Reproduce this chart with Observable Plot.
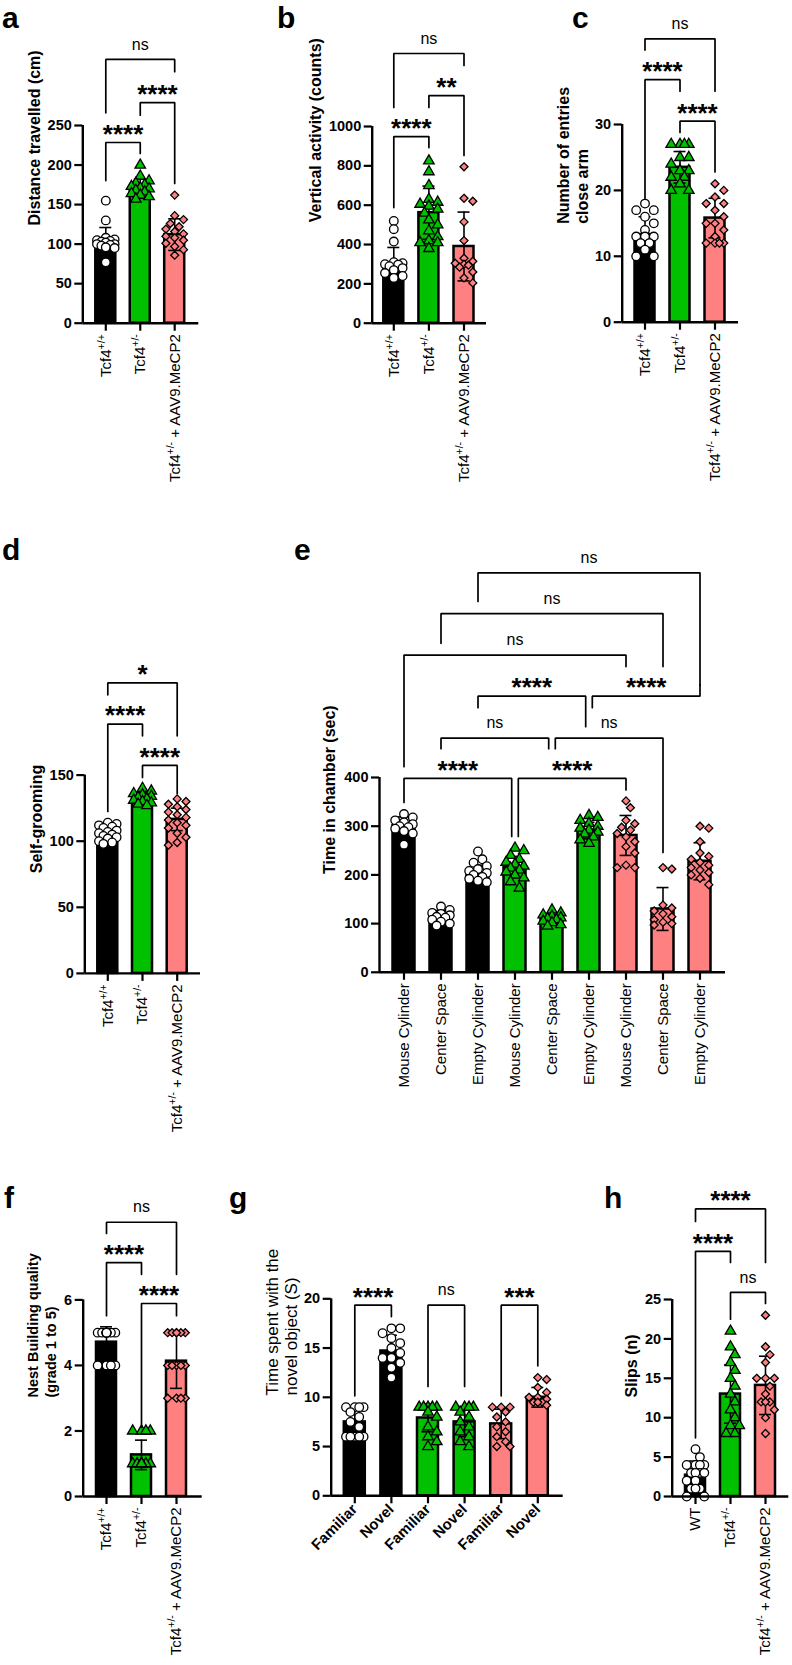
<!DOCTYPE html>
<html><head><meta charset="utf-8">
<script src="https://cdn.jsdelivr.net/npm/d3@7"></script>
<script src="https://cdn.jsdelivr.net/npm/@observablehq/plot@0.6"></script>
<style>
body{margin:0;background:#fff;}
#fig{position:relative;width:792px;height:1665px;background:#fff;overflow:hidden;font-family:"Liberation Sans",Arial,sans-serif;color:#000;}
.letter{position:absolute;font-weight:bold;font-size:30px;line-height:34px;}
.panel{position:absolute;}
.panel svg{overflow:visible;max-width:none;}
</style></head><body><div id="fig"></div>
<script>
// ---------- categories / tick labels ----------
const threeGroups = ["Tcf4^{+/+}", "Tcf4^{+/-}", "Tcf4^{+/-} + AAV9.MeCP2"];
const slipGroups = ["WT", "Tcf4^{+/-}", "Tcf4^{+/-} + AAV9.MeCP2"];
const chamberLabels = ["Mouse Cylinder", "Center Space", "Empty Cylinder", "Mouse Cylinder", "Center Space", "Empty Cylinder", "Mouse Cylinder", "Center Space", "Empty Cylinder"];
const objectLabels = ["Familiar", "Novel", "Familiar", "Novel", "Familiar", "Novel"];
const genoThree = [0, 1, 2];
const genoChamber = [0, 0, 0, 1, 1, 1, 2, 2, 2];
const genoObject = [0, 0, 1, 1, 2, 2];

// ---------- a: distance travelled ----------
const aMeans = [101, 170, 112];
const aSD = [20, 12, 20];
const aWT = [155, 130, 108, 106, 105, 104, 103, 102, 100, 100, 99, 98, 96, 95, 77];
const aHet = [200, 186, 180, 177, 175, 173, 171, 170, 168, 166, 164, 162, 160, 157];
const aAAV = [162, 136, 131, 126, 122, 119, 116, 113, 110, 108, 105, 101, 97, 93, 86];
const aBrackets = [[0, 1, 228.5, 180.4, 214.6, "****"], [1, 2, 279, 263, 176.7, "****"], [0, 2, 333.5, 266, 318, "ns"]];

// ---------- b: vertical activity ----------
const bMeans = [305, 562, 390];
const bSD = [80, 135, 175];
const bWT = [520, 478, 415, 310, 305, 300, 298, 290, 280, 270, 255, 240, 230];
const bHet = [825, 770, 700, 630, 615, 605, 595, 580, 560, 525, 500, 470, 440, 420, 410, 410, 380];
const bAAV = [795, 635, 620, 515, 420, 330, 315, 305, 300, 295, 285, 260, 230, 205];
const bBrackets = [[0, 1, 949, 588, 893, "****"], [1, 2, 1157, 1097, 853, "**"], [0, 2, 1371, 1097, 1310, "ns"]];

// ---------- c: entries close arm ----------
const cMeans = [13.3, 23.5, 15.8];
const cSD = [2.7, 2.4, 3.0];
const cWT = [18, 17, 17, 16, 15, 14, 13, 13, 13, 12, 12, 11, 10, 10];
const cHet = [27, 27, 27, 27, 25, 25, 24, 23, 23, 22, 22, 21, 20, 20];
const cAAV = [21, 20, 19, 18, 18, 17, 16, 15, 15, 14, 13, 12, 12, 12, 12];
const cBrackets = [[0, 1, 36.8, 18.8, 35.05, "****"], [1, 2, 30.5, 28.8, 22.8, "****"], [0, 2, 43.0, 41.3, 35.05, "ns"]];

// ---------- d: self-grooming ----------
const dMeans = [106.5, 132.7, 116.5];
const dSD = [4.5, 4, 8.5];
const dWT = [114, 113, 112, 111, 110, 108, 107, 106, 105, 104, 103, 102, 100, 99, 98];
const dHet = [140, 138, 136, 135, 134, 133, 132, 131, 130, 129, 128, 127];
const dAAV = [132, 130, 128, 126, 124, 122, 120, 118, 116, 114, 112, 110, 106, 103, 99, 97];
const dBrackets = [[0, 1, 188.6, 122.5, 179.7, "****"], [1, 2, 157.3, 148.2, 135.9, "****"], [0, 2, 219.7, 210.7, 179.7, "*"]];

// ---------- e: time in chamber ----------
const eMeans = [301, 115, 200, 216, 108, 291, 281, 130, 228];
const eSD = [18, 12, 20, 22, 9, 17, 41, 44, 38];
const eWTMouse = [325, 318, 312, 308, 304, 300, 298, 295, 290, 285, 262];
const eWTCenter = [135, 128, 122, 120, 117, 114, 112, 108, 104, 100, 96];
const eWTEmpty = [248, 232, 225, 218, 212, 208, 204, 200, 196, 192, 188, 185];
const eHetMouse = [255, 250, 240, 232, 226, 222, 218, 214, 210, 206, 200, 194, 186, 173];
const eHetCenter = [128, 122, 118, 115, 112, 110, 108, 105, 102, 98, 95];
const eHetEmpty = [322, 318, 312, 306, 300, 296, 292, 288, 284, 278, 272, 265];
const eAAVMouse = [352, 338, 312, 305, 298, 292, 285, 278, 268, 258, 245, 220, 215, 215];
const eAAVCenter = [215, 212, 138, 132, 126, 120, 114, 108, 103, 100, 97];
const eAAVEmpty = [300, 296, 268, 245, 238, 232, 226, 220, 215, 210, 205, 200, 193, 180];
const eBrackets = [
  [0, 3, 398, 348.9, 279, "****", 0, -1], [3, 6, 398, 279, 374.4, "****", 1, 0],
  [1, 4, 481, 459, 459, "ns", 0, -1], [4, 7, 481, 459, 246, "ns", 1, 0],
  [2, 5, 567, 543.4, 504.4, "****", 0, -1], [5, 8, 567, 543.4, 589.6, "****", 1, 0],
  [0, 6, 651.3, 422.2, 627.8, "ns"], [1, 7, 736.6, 675.6, 627.8, "ns"], [2, 8, 820.3, 761.5, 589.6, "ns"]];

// ---------- f: nest building ----------
const fMeans = [4.71, 1.27, 4.13];
const fSD = [0.47, 0.45, 0.83];
const fWT = [5, 5, 5, 5, 5, 5, 5, 5, 5, 5, 4, 4, 4, 4];
const fHet = [2, 2, 2, 2, 1, 1, 1, 1, 1, 1, 1, 1, 1, 1, 1];
const fAAV = [5, 5, 5, 5, 5, 5, 4, 4, 4, 4, 4, 3, 3, 3, 3];
const fBrackets = [[0, 1, 7.14, 5.52, 6.78, "****"], [1, 2, 5.89, 2.11, 5.52, "****"], [0, 2, 8.37, 8.03, 6.78, "ns"]];

// ---------- g: novel object ----------
const gMeans = [7.5, 14.7, 7.9, 7.5, 7.3, 10.0];
const gSD = [1.3, 1.6, 1.4, 1.5, 1.5, 1.0];
const gWTFam = [9, 9, 9, 9, 8.5, 8, 7.5, 7, 6, 6, 6, 6, 6];
const gWTNov = [17, 17, 16.5, 16, 15.5, 15, 14.5, 14, 14, 13.5, 13, 12];
const gHetFam = [9, 9, 9, 9, 9, 8.5, 8, 7, 6.5, 6, 5.5, 5];
const gHetNov = [9, 9, 9, 9, 8.5, 8, 7.5, 7, 6.5, 6, 5.5, 5];
const gAAVFam = [9, 9, 9, 8.5, 8, 7.5, 7, 6.5, 6, 5.5, 5, 5];
const gAAVNov = [12, 11.8, 11, 10.5, 10, 10, 9.8, 9.5, 9.5, 9.5, 9.2];
const gBrackets = [[0, 1, 19.35, 10.15, 18.2, "****"], [2, 3, 19.35, 11.1, 11.1, "ns"], [4, 5, 19.35, 10.15, 13.2, "***"]];

// ---------- h: slips ----------
const hMeans = [2.7, 13.0, 14.1];
const hSD = [1.8, 3.7, 3.7];
const hWT = [6, 5, 4, 4, 4, 4, 3, 3, 3, 3, 2, 2, 1, 1, 1, 0, 0];
const hHet = [21, 19, 18, 17, 16, 15, 14, 13, 12, 11, 10, 9, 9, 8, 8];
const hAAV = [23, 19, 18, 17, 15, 15, 15, 14, 13, 12, 12, 12, 11, 10, 8];
const hBrackets = [[0, 1, 31.1, 7.44, 29.7, "****"], [1, 2, 25.9, 22.5, 24.5, "ns"], [0, 2, 36.5, 34.9, 29.7, "****"]];

// ---------- styles ----------
const BAR_FILL = ["#000000", "#00c000", "#ff8080"];
const PT_FILL = ["#ffffff", "#00c000", "#ff8080"];
const SYM = ["circle", "triangle", "diamond2"];
const SYM_R = [4.3, 3.9, 3.6];

// ---------- layout (pixel placement of each panel) ----------
const layout = {
  a: {left: 0, top: 0, W: 230, H: 500, axisX: 82.3, xEnd: 198.3, firstC: 105.3, step: 34.45, base: 322.7, topPx: 125, barHalf: 10, labelX: 33.3, labelY: 225, letter: [2, 1.2]},
  b: {left: 250, top: 0, W: 250, H: 500, axisX: 371.7, xEnd: 486, firstC: 393.3, step: 35.1, base: 322.7, topPx: 126, barHalf: 10, labelX: 314, labelY: 221.7, letter: [277, 1.2]},
  c: {left: 520, top: 0, W: 260, H: 500, axisX: 621.7, xEnd: 738, firstC: 644.5, step: 35, base: 321.7, topPx: 124, barHalf: 10, labelX: 571.7, labelY: 223.3, letter: [572, 1.2]},
  d: {left: 0, top: 520, W: 230, H: 620, axisX: 84.3, xEnd: 200, firstC: 107.3, step: 34.7, base: 972.9, topPx: 774.6, barHalf: 10, labelX: 35, labelY: 872.7, letter: [2, 533]},
  e: {left: 290, top: 520, W: 460, H: 600, axisX: 379, xEnd: 725, firstC: 403.5, step: 37.0, base: 971.8, topPx: 777, barHalf: 11, labelX: 328.3, labelY: 873.5, letter: [294, 533]},
  f: {left: 0, top: 1150, W: 230, H: 515, axisX: 82.7, xEnd: 201.7, firstC: 106, step: 35, base: 1496, topPx: 1299.4, barHalf: 10, labelX: 40.8, labelY: 1397, letter: [4, 1181]},
  g: {left: 220, top: 1150, W: 360, H: 515, axisX: 330.7, xEnd: 562.7, firstC: 354.3, step: 36.6, base: 1495.3, topPx: 1298.3, barHalf: 10.5, labelX: 281.2, labelY: 1395, letter: [229, 1181]},
  h: {left: 590, top: 1150, W: 202, H: 515, axisX: 671.7, xEnd: 788.3, firstC: 695, step: 35, base: 1496, topPx: 1299, barHalf: 10, labelX: 630, labelY: 1397, letter: [604, 1181]}
};

const panels = {
  a: {labels: threeGroups, geno: genoThree, means: aMeans, sds: aSD, groups: [aWT, aHet, aAAV], brackets: aBrackets, ymax: 250, yticks: [0, 50, 100, 150, 200, 250], ylabel: "Distance travelled (cm)", rotate: -90},
  b: {labels: threeGroups, geno: genoThree, means: bMeans, sds: bSD, groups: [bWT, bHet, bAAV], brackets: bBrackets, ymax: 1000, yticks: [0, 200, 400, 600, 800, 1000], ylabel: "Vertical activity (counts)", rotate: -90},
  c: {labels: threeGroups, geno: genoThree, means: cMeans, sds: cSD, groups: [cWT, cHet, cAAV], brackets: cBrackets, ymax: 30, yticks: [0, 10, 20, 30], ylabel: "Number of entries\nclose arm", rotate: -90},
  d: {labels: threeGroups, geno: genoThree, means: dMeans, sds: dSD, groups: [dWT, dHet, dAAV], brackets: dBrackets, ymax: 150, yticks: [0, 50, 100, 150], ylabel: "Self-grooming", rotate: -90},
  e: {labels: chamberLabels, geno: genoChamber, means: eMeans, sds: eSD, groups: [eWTMouse, eWTCenter, eWTEmpty, eHetMouse, eHetCenter, eHetEmpty, eAAVMouse, eAAVCenter, eAAVEmpty], brackets: eBrackets, ymax: 400, yticks: [0, 100, 200, 300, 400], ylabel: "Time in chamber (sec)", rotate: -90},
  f: {labels: threeGroups, geno: genoThree, means: fMeans, sds: fSD, groups: [fWT, fHet, fAAV], brackets: fBrackets, ymax: 6, yticks: [0, 2, 4, 6], ylabel: "Nest Building quality\n(grade 1 to 5)", rotate: -90, ylabelSize: 14.5, ylabelLH: 1.25},
  g: {labels: objectLabels, geno: genoObject, means: gMeans, sds: gSD, groups: [gWTFam, gWTNov, gHetFam, gHetNov, gAAVFam, gAAVNov], brackets: gBrackets, ymax: 20, yticks: [0, 5, 10, 15, 20], ylabel: "Time spent with the\nnovel object (S)", rotate: -45, boldX: true, ylabelNormal: true, ylabelSize: 17, ylabelLH: 1.13},
  h: {labels: slipGroups, geno: genoThree, means: hMeans, sds: hSD, groups: [hWT, hHet, hAAV], brackets: hBrackets, ymax: 25, yticks: [0, 5, 10, 15, 20, 25], ylabel: "Slips (n)", rotate: -90}
};

// deterministic scatter spreading (pixel space), returns x offsets in data units
function swarm(vals, ky, kx, r, maxOff) {
  const order = d3.range(vals.length).sort((i, j) => d3.descending(vals[i], vals[j]));
  const cands = [0];
  for (let s = r; s <= maxOff + 0.01; s += r) cands.push(s, -s);
  const placed = [];
  const off = new Array(vals.length).fill(0);
  for (const i of order) {
    const y = vals[i] * ky;
    let best = 0, bestScore = -Infinity;
    for (const c of cands) {
      let minD = Infinity;
      for (const p of placed) minD = Math.min(minD, Math.hypot(p.x - c, p.y - y));
      if (minD >= 2 * r * 0.92) { best = c; break; }
      if (minD > bestScore) { bestScore = minD; best = c; }
    }
    placed.push({x: best, y});
    off[i] = best / kx;
  }
  return off;
}

function superscripts(svg) {
  const NS = "http://www.w3.org/2000/svg";
  svg.querySelectorAll("text").forEach(t => {
    const s = t.textContent;
    if (!s.includes("^{")) return;
    while (t.firstChild) t.removeChild(t.firstChild);
    const parts = s.split(/\^\{([^}]*)\}/);
    let raised = false;
    parts.forEach((p, k) => {
      if (!p) return;
      const ts = document.createElementNS(NS, "tspan");
      ts.textContent = p;
      if (k % 2) { ts.setAttribute("dy", "-6"); ts.setAttribute("font-size", "10.5"); raised = true; }
      else if (raised) { ts.setAttribute("dy", "6"); raised = false; }
      t.appendChild(ts);
    });
  });
}

const fig = document.getElementById("fig");

for (const key of Object.keys(panels)) {
  const L = layout[key], D = panels[key];
  const n = D.labels.length;
  const x0 = -(L.firstC - L.axisX) / L.step;
  const x1 = (n - 1) + (L.xEnd - (L.firstC + (n - 1) * L.step)) / L.step;
  const ml = L.axisX - L.left, mr = L.W - (L.xEnd - L.left);
  const mt = L.topPx - L.top, mb = L.H - (L.base - L.top);
  const ky = (L.base - L.topPx) / D.ymax;
  const kx = L.step;
  const stats = D.means.map((m, i) => ({i, m, sd: D.sds[i], g: D.geno[i]}));
  const pts = D.groups.flatMap((vals, i) => {
    const off = swarm(vals, ky, kx, 4.4, 9);
    return vals.map((v, j) => ({x: i + off[j], v, g: D.geno[i]}));
  });
  const hw = L.barHalf / kx, cap = 6 / kx, shift = 3.3 / kx;
  const legs = [];
  const tags = [];
  D.brackets.forEach((b, k) => {
    const xa = b[0] + (b[6] || 0) * shift, xb = b[1] + (b[7] || 0) * shift;
    legs.push({k, x: xa, y: b[3]}, {k, x: xa, y: b[2]}, {k, x: xb, y: b[2]}, {k, x: xb, y: b[4]});
    tags.push({x: (xa + xb) / 2, y: b[2], t: b[5]});
  });
  const marks = [];
  [0, 1, 2].forEach(g => marks.push(Plot.rect(stats.filter(d => d.g === g), {
    x1: d => d.i - hw, x2: d => d.i + hw, y1: 0, y2: "m", fill: BAR_FILL[g], stroke: "black", strokeWidth: 2.5})));
  marks.push(Plot.ruleX(stats, {x: "i", y1: d => d.m - d.sd, y2: d => d.m + d.sd, stroke: "black", strokeWidth: 1.6}));
  marks.push(Plot.ruleY(stats, {y: d => d.m + d.sd, x1: d => d.i - cap, x2: d => d.i + cap, stroke: "black", strokeWidth: 1.6}));
  marks.push(Plot.ruleY(stats, {y: d => d.m - d.sd, x1: d => d.i - cap, x2: d => d.i + cap, stroke: "black", strokeWidth: 1.6}));
  [0, 1, 2].forEach(g => marks.push(Plot.dot(pts.filter(d => d.g === g), {
    x: "x", y: "v", symbol: SYM[g], r: SYM_R[g], fill: PT_FILL[g], stroke: "black", strokeWidth: 1.3})));
  marks.push(Plot.ruleY([0], {stroke: "black", strokeWidth: 2.4}));
  marks.push(Plot.ruleX([x0], {y1: 0, y2: D.ymax, stroke: "black", strokeWidth: 2.4}));
  marks.push(Plot.axisY({ticks: D.yticks, tickFormat: d => String(d), tickSize: 8, tickPadding: 3, fontSize: 14.5, fontWeight: "bold", strokeWidth: 2.2, label: null}));
  marks.push(Plot.axisX({ticks: d3.range(n), tickFormat: i => D.labels[i], tickRotate: D.rotate, tickSize: 8, tickPadding: 3,
    fontSize: 15, fontWeight: D.boldX ? "bold" : "normal", strokeWidth: 2.2, label: null}));
  marks.push(Plot.line(legs, {x: "x", y: "y", z: "k", stroke: "black", strokeWidth: 1.7, strokeLinejoin: "miter"}));
  marks.push(Plot.text(tags.filter(d => d.t !== "ns"), {x: "x", y: "y", text: "t", fontSize: 26, fontWeight: "bold", dy: -8}));
  marks.push(Plot.text(tags.filter(d => d.t === "ns"), {x: "x", y: "y", text: "t", fontSize: 16, dy: -15}));
  marks.push(Plot.text([D.ylabel], {text: d => d, frameAnchor: "left", rotate: -90,
    dx: L.labelX - L.axisX, dy: L.labelY - (L.topPx + L.base) / 2,
    fontSize: D.ylabelSize || 16, fontWeight: D.ylabelNormal ? "normal" : "bold", lineHeight: D.ylabelLH || 1.2}));

  const svg = Plot.plot({
    width: L.W, height: L.H,
    marginLeft: ml, marginRight: mr, marginTop: mt, marginBottom: mb,
    x: {domain: [x0, x1]},
    y: {domain: [0, D.ymax]},
    style: {fontFamily: "'Liberation Sans', Arial, sans-serif", fontSize: "15px", overflow: "visible", background: "transparent", color: "black", maxWidth: "none"},
    marks
  });
  const yl = svg.querySelector('g[aria-label="y-axis tick label"]');
  if (yl) { yl.setAttribute("font-weight", "bold"); yl.setAttribute("font-size", "14.5"); }
  superscripts(svg);
  const wrap = document.createElement("div");
  wrap.className = "panel";
  wrap.style.left = L.left + "px";
  wrap.style.top = L.top + "px";
  wrap.appendChild(svg);
  fig.appendChild(wrap);

  const letter = document.createElement("div");
  letter.className = "letter";
  letter.textContent = key;
  letter.style.left = L.letter[0] + "px";
  letter.style.top = L.letter[1] + "px";
  fig.appendChild(letter);
}
</script></body></html>
